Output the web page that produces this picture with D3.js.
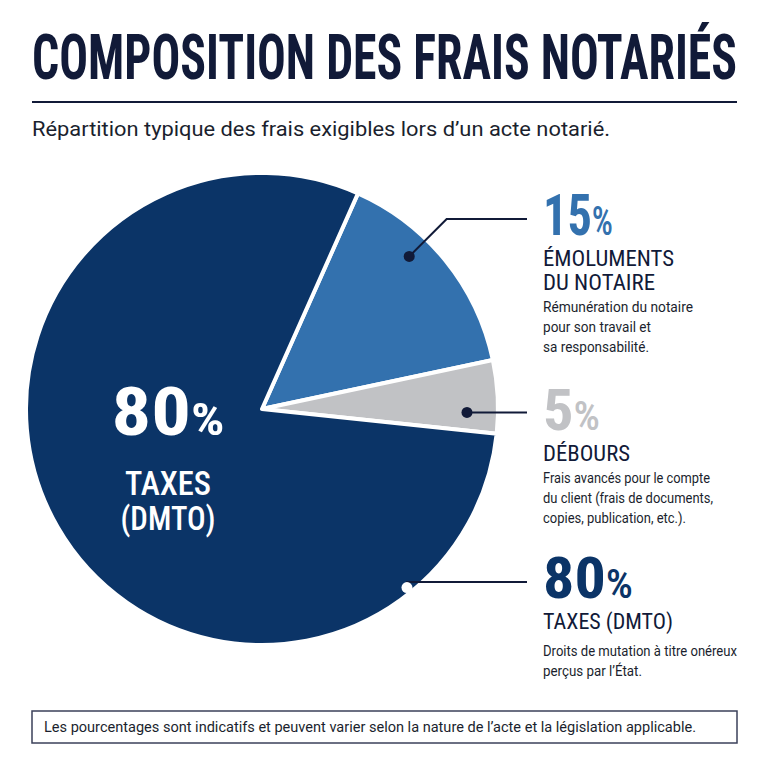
<!DOCTYPE html>
<html>
<head>
<meta charset="utf-8">
<script src="https://cdn.jsdelivr.net/npm/d3@7"></script>
<style>
  html, body { margin: 0; padding: 0; background: #ffffff; }
  svg { display: block; }
  .cond { font-family: "Roboto Condensed", "Liberation Sans Narrow", "DejaVu Sans Condensed", "Roboto", sans-serif; }
  .body { font-family: "Roboto", "Inter", "Noto Sans", sans-serif; }
</style>
</head>
<body>
<div id="chart"></div>
<script>
// data
const categories = [ "Émoluments du notaire", "Débours", "Taxes (DMTO)" ];
const shares = [ 15, 5, 80 ];
const headings = [ [ "ÉMOLUMENTS", "DU NOTAIRE" ], [ "DÉBOURS" ], [ "TAXES (DMTO)" ] ];
const descriptions = [
	[ "Rémunération du notaire", "pour son travail et", "sa responsabilité." ],
	[ "Frais avancés pour le compte", "du client (frais de documents,", "copies, publication, etc.)." ],
	[ "Droits de mutation à titre onéreux", "perçus par l’État." ]
];
const centerLabel = [ "TAXES", "(DMTO)" ];
const title = "COMPOSITION DES FRAIS NOTARIÉS";
const subtitle = "Répartition typique des frais exigibles lors d’un acte notarié.";
const footnote = "Les pourcentages sont indicatifs et peuvent varier selon la nature de l’acte et la législation applicable.";

const width = 768, height = 768;
const navy = "#111a38";
const palette = [ "#3371ae", "#c1c2c5", "#0b3467" ];
const sliceColor = d3.scaleOrdinal().domain( categories ).range( palette );

const svg = d3.select( "#chart" ).append( "svg" )
	.attr( "width", width )
	.attr( "height", height )
	.attr( "viewBox", [ 0, 0, width, height ] );

// title + rule + subtitle
svg.append( "text" )
	.attr( "class", "cond" )
	.attr( "x", 32 ).attr( "y", 79 )
	.attr( "font-size", 63 ).attr( "font-weight", 700 )
	.attr( "fill", navy )
	.attr( "textLength", 705 ).attr( "lengthAdjust", "spacingAndGlyphs" )
	.text( title );

svg.append( "line" )
	.attr( "x1", 32 ).attr( "x2", 737 )
	.attr( "y1", 102 ).attr( "y2", 102 )
	.attr( "stroke", navy ).attr( "stroke-width", 2 );

svg.append( "text" )
	.attr( "class", "body" )
	.attr( "x", 32 ).attr( "y", 136 )
	.attr( "font-size", 20 )
	.attr( "fill", "#1b1f2e" )
	.attr( "textLength", 578 ).attr( "lengthAdjust", "spacingAndGlyphs" )
	.text( subtitle );

// pie
const cx = 262, cy = 409, radius = 236;
const start = 24 * Math.PI / 180;
const pie = d3.pie().sort( null ).value( d => d )
	.startAngle( start )
	.endAngle( start + 2 * Math.PI );
const arcs = pie( shares );
const arc = d3.arc().innerRadius( 0 ).outerRadius( radius );

const g = svg.append( "g" ).attr( "transform", `translate(${cx},${cy})` );
g.selectAll( "path" )
	.data( arcs )
	.join( "path" )
	.attr( "d", arc )
	.attr( "fill", ( d, i ) => sliceColor( categories[ i ] ) )
	.attr( "stroke", "#ffffff" )
	.attr( "stroke-width", 4 )
	.attr( "stroke-linejoin", "round" );

// big label inside the dark slice
const center = svg.append( "g" ).attr( "class", "cond" ).attr( "fill", "#ffffff" ).attr( "text-anchor", "middle" );
center.append( "text" )
	.attr( "x", 168 ).attr( "y", 435 )
	.attr( "font-weight", 700 )
	.attr( "textLength", 113 ).attr( "lengthAdjust", "spacingAndGlyphs" )
	.call( t => {
		t.append( "tspan" ).attr( "font-size", 66 ).text( shares[ 2 ] );
		t.append( "tspan" ).attr( "font-size", 44 ).text( "%" );
	} );
center.selectAll( "text.sub" )
	.data( centerLabel )
	.join( "text" )
	.attr( "class", "sub" )
	.attr( "x", 168 ).attr( "y", ( d, i ) => 495 + i * 35 )
	.attr( "font-size", 33 ).attr( "font-weight", 500 )
	.attr( "textLength", ( d, i ) => i ? 95 : 86 ).attr( "lengthAdjust", "spacingAndGlyphs" )
	.text( d => d );

// callouts (layout only)
const textX = 543, lineEnd = 527;
const callouts = [
	{ t: 0.37, r: 212, base: 235, numW: 70, headW: [ 131, 112 ], descW: [ 150, 108, 106 ], dot: navy, bend: "diag" },
	{ t: 0.72, r: 205, base: 430, numW: 57, headW: [ 87 ], descW: [ 167, 170, 143 ], dot: navy, bend: null },
	{ t: 0.156, r: 230, base: 598, numW: 90, headW: [ 130 ], descW: [ 194, 99 ], dot: "#ffffff", bend: "flat" }
];

callouts.forEach( ( c, i ) => {
	const a = arcs[ i ];
	const ang = a.startAngle + c.t * ( a.endAngle - a.startAngle );
	const p = d3.pointRadial( ang, c.r );
	const px = cx + p[ 0 ], py = cy + p[ 1 ];
	const ly = c.bend ? c.base - 16 : py;
	const pts = [ [ px, py ] ];
	if ( c.bend === "diag" ) pts.push( [ px + ( py - ly ), ly ] );
	else if ( c.bend === "flat" ) pts.push( [ px, ly ] );
	pts.push( [ lineEnd, ly ] );

	svg.append( "path" )
		.attr( "d", d3.line()( pts ) )
		.attr( "fill", "none" )
		.attr( "stroke", navy )
		.attr( "stroke-width", 2 );
	svg.append( "circle" )
		.attr( "cx", px ).attr( "cy", py ).attr( "r", 5.5 )
		.attr( "fill", c.dot );

	const num = svg.append( "text" )
		.attr( "class", "cond" )
		.attr( "x", textX ).attr( "y", c.base )
		.attr( "font-weight", 700 )
		.attr( "fill", palette[ i ] )
		.attr( "textLength", c.numW ).attr( "lengthAdjust", "spacingAndGlyphs" );
	num.append( "tspan" ).attr( "font-size", 58 ).text( shares[ i ] );
	num.append( "tspan" ).attr( "font-size", 40 ).attr( "font-weight", 500 ).text( "%" );

	let y = c.base + 31;
	headings[ i ].forEach( ( h, j ) => {
		svg.append( "text" )
			.attr( "class", "cond" )
			.attr( "x", textX ).attr( "y", y )
			.attr( "font-size", 22 ).attr( "font-weight", 400 )
			.attr( "fill", navy )
			.attr( "textLength", c.headW[ j ] ).attr( "lengthAdjust", "spacingAndGlyphs" )
			.text( h );
		y += 24;
	} );
	y += i === 2 ? 3 : -2;
	descriptions[ i ].forEach( ( d, j ) => {
		svg.append( "text" )
			.attr( "class", "body" )
			.attr( "x", textX ).attr( "y", y )
			.attr( "font-size", 15 )
			.attr( "fill", "#1b1f2e" )
			.attr( "textLength", c.descW[ j ] ).attr( "lengthAdjust", "spacingAndGlyphs" )
			.text( d );
		y += 20;
	} );
} );

// footnote box
svg.append( "rect" )
	.attr( "x", 32 ).attr( "y", 711 )
	.attr( "width", 705 ).attr( "height", 32 )
	.attr( "fill", "#ffffff" )
	.attr( "stroke", "#3b405a" ).attr( "stroke-width", 1.5 );
svg.append( "text" )
	.attr( "class", "body" )
	.attr( "x", 44 ).attr( "y", 732 )
	.attr( "font-size", 15.5 )
	.attr( "fill", "#1b1f2e" )
	.attr( "textLength", 652 ).attr( "lengthAdjust", "spacingAndGlyphs" )
	.text( footnote );
</script>
</body>
</html>
